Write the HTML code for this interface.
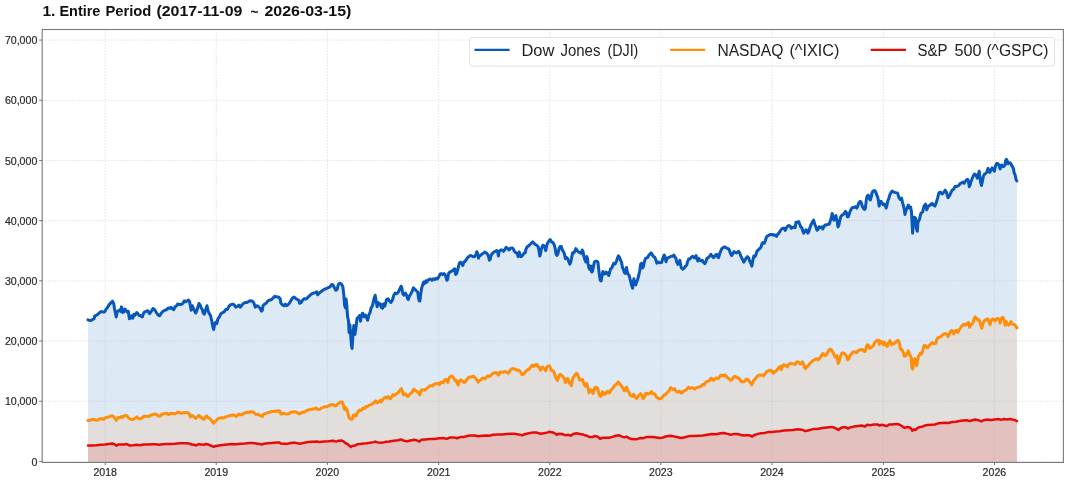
<!DOCTYPE html>
<html><head><meta charset="utf-8"><style>
html,body{margin:0;padding:0;background:#fff;}
svg{display:block;font-family:"Liberation Sans",sans-serif;will-change:transform;}
</style></head><body>
<svg width="1068" height="482" viewBox="0 0 1068 482">
<rect width="1068" height="482" fill="#fff"/>
<g font-size="15.0" font-weight="bold" fill="#111"><text x="42.40" y="15.8" textLength="13.00" lengthAdjust="spacingAndGlyphs">1.</text><text x="59.40" y="15.8" textLength="41.00" lengthAdjust="spacingAndGlyphs">Entire</text><text x="105.40" y="15.8" textLength="46.00" lengthAdjust="spacingAndGlyphs">Period</text><text x="156.40" y="15.8" textLength="86.00" lengthAdjust="spacingAndGlyphs">(2017-11-09</text><text x="250.40" y="17.0" textLength="8.00" lengthAdjust="spacingAndGlyphs">~</text><text x="264.40" y="15.8" textLength="87.00" lengthAdjust="spacingAndGlyphs">2026-03-15)</text></g>
<g stroke="none">
<polygon fill="#0858bc" fill-opacity="0.135" points="88.0,462.0 88.0,319.8 90.1,320.6 92.3,319.8 94.0,318.7 94.9,315.8 96.2,315.3 97.9,314.2 99.6,312.5 101.3,311.6 103.0,311.9 104.7,311.9 105.8,309.7 107.5,307.4 109.2,304.6 110.8,302.9 112.5,301.2 113.7,303.5 114.4,308.0 115.3,312.5 116.2,317.0 117.0,312.5 118.1,310.8 119.3,310.2 120.4,311.3 121.5,306.9 122.6,312.5 123.8,311.9 124.9,309.1 126.0,310.2 127.1,311.9 128.3,311.3 129.4,318.7 130.5,318.1 131.6,315.8 132.8,318.1 133.9,314.2 135.0,315.3 136.7,312.5 137.8,313.6 138.9,315.3 140.6,315.8 142.3,317.0 143.4,313.6 144.6,311.9 146.2,311.3 147.9,310.8 149.6,313.6 151.3,311.3 153.0,308.5 154.7,309.7 156.3,312.5 158.0,314.9 159.7,315.8 161.4,313.0 163.1,311.3 164.8,310.2 166.5,309.7 168.1,308.0 169.8,308.5 171.0,307.4 172.1,308.5 173.8,309.7 174.9,306.9 176.6,305.7 177.7,304.0 179.4,304.6 181.1,304.6 182.8,303.5 184.4,300.7 185.6,301.8 186.7,301.2 188.4,300.1 189.5,301.2 190.6,306.9 191.2,310.2 192.3,305.7 193.4,308.5 194.6,310.8 195.7,313.0 196.8,310.8 197.9,306.9 199.0,303.5 200.2,305.2 201.3,308.0 202.4,309.7 203.1,312.7 204.4,314.2 205.4,310.4 207.0,305.7 208.1,311.1 209.3,313.5 210.6,315.8 211.7,320.5 212.8,326.7 213.7,329.5 214.8,323.6 215.9,322.0 216.8,323.6 217.9,318.9 219.5,316.6 221.0,313.5 222.6,312.7 224.1,311.9 225.7,309.6 227.2,309.6 228.8,306.5 230.4,304.9 232.7,304.1 234.2,304.9 235.8,307.2 237.4,306.5 238.9,305.2 240.5,307.2 242.0,304.9 243.6,303.3 245.1,302.6 246.7,302.6 248.2,301.8 249.8,300.7 252.1,301.0 253.7,302.6 255.3,307.2 256.8,305.7 258.4,306.5 259.9,308.0 261.5,311.1 262.3,310.4 263.0,305.7 264.6,304.1 266.1,303.3 267.7,301.0 269.3,300.2 271.6,299.5 273.2,297.9 274.7,296.3 276.3,296.8 278.6,297.1 280.2,298.7 280.9,303.3 282.5,304.9 284.0,305.7 285.3,304.1 286.4,305.7 287.9,304.9 289.5,303.0 291.1,300.2 292.6,297.9 294.2,297.1 295.7,298.4 297.3,299.5 298.8,300.2 299.6,303.3 301.2,302.6 302.7,299.9 304.3,298.7 305.8,299.0 307.4,297.9 308.9,296.3 310.5,294.8 312.1,293.7 313.6,293.2 315.2,292.5 316.7,291.7 317.6,294.7 319.4,292.9 321.2,291.5 322.9,290.3 324.7,289.1 326.5,288.5 328.2,287.6 330.0,286.8 331.8,284.5 333.0,285.0 334.4,287.6 335.8,290.3 337.1,289.4 338.3,284.5 339.7,283.2 341.5,284.1 342.9,286.8 343.8,294.7 344.6,305.3 345.4,307.9 346.1,299.1 346.8,305.3 347.5,315.9 348.5,321.2 349.1,332.6 349.9,324.7 350.8,337.1 351.5,345.9 352.1,348.5 352.9,335.3 353.8,325.6 354.9,334.4 355.9,328.2 357.0,318.5 358.2,317.6 359.5,315.5 360.5,321.2 361.4,315.9 362.6,313.2 364.1,316.8 365.3,315.0 366.5,317.6 367.6,320.3 368.8,315.0 370.1,312.4 371.1,307.9 372.3,306.2 374.6,296.7 375.2,295.2 376.1,301.0 377.1,306.8 378.1,302.5 379.3,304.7 380.4,303.9 381.4,307.6 382.5,308.3 383.6,303.9 384.8,306.1 385.8,302.5 386.5,299.6 388.0,298.8 389.4,301.0 390.9,302.5 392.3,300.3 393.8,295.2 395.2,293.0 396.7,293.8 398.2,292.3 399.6,289.4 401.1,286.2 401.8,287.9 402.8,293.8 404.0,295.2 405.4,293.0 406.6,295.2 407.6,298.8 408.3,299.6 409.5,295.9 410.5,294.5 412.0,291.6 413.4,287.9 414.9,289.4 416.3,290.8 417.8,292.3 418.5,298.1 419.2,301.0 419.9,301.0 420.7,293.8 421.7,287.9 422.6,285.0 423.6,282.1 424.6,283.6 425.8,280.7 426.9,282.1 427.9,280.4 429.4,279.2 430.7,279.0 432.0,280.3 433.4,278.7 434.7,279.6 436.1,278.3 437.4,279.0 438.8,276.9 440.1,274.2 441.5,273.6 442.8,274.6 444.2,273.6 445.5,275.6 446.9,280.3 447.6,279.6 448.5,273.6 449.6,272.2 450.9,271.5 452.3,270.9 453.6,269.5 454.7,268.8 455.7,274.6 456.6,273.6 457.4,270.9 458.4,266.8 459.3,263.4 460.6,262.1 461.7,263.4 462.8,265.5 463.8,262.1 465.1,261.4 466.4,259.4 467.8,257.4 469.1,256.3 470.5,255.4 471.8,256.0 473.2,256.7 474.5,256.7 475.9,254.7 476.8,251.7 477.6,253.3 478.5,258.1 479.3,256.0 480.6,255.4 482.0,254.0 483.3,253.3 484.7,252.0 486.0,252.7 487.4,254.0 488.4,256.0 489.4,260.1 490.1,259.4 491.1,255.4 492.5,253.3 493.8,252.0 495.2,251.3 496.5,250.6 497.5,251.3 498.4,256.0 499.2,251.3 500.6,250.0 502.2,250.0 503.5,251.3 504.9,249.3 506.2,247.3 507.7,248.6 509.0,250.0 510.4,248.2 511.7,247.9 513.1,248.6 514.4,251.3 515.8,252.7 517.1,253.3 518.2,256.7 519.2,252.0 520.1,255.4 521.2,256.7 522.5,255.4 523.9,253.3 525.2,252.7 525.9,249.3 527.3,246.6 528.6,245.9 530.0,244.6 531.3,243.2 532.7,241.9 534.0,243.2 535.4,244.6 536.7,245.2 538.1,246.6 539.0,250.6 539.8,256.0 540.5,254.0 541.4,248.6 542.8,245.2 544.1,245.9 545.2,248.6 545.7,250.6 546.8,245.2 547.9,242.5 548.8,241.2 550.2,239.6 551.5,241.9 552.9,242.5 554.2,244.6 555.2,248.6 556.0,254.0 556.9,255.4 557.9,254.0 559.0,248.6 560.0,246.6 561.4,246.6 562.3,250.0 563.3,251.3 564.4,254.0 565.4,258.7 566.4,257.4 567.7,258.7 568.7,261.4 569.8,264.1 570.8,262.1 571.8,256.7 572.7,252.7 573.8,252.7 574.9,251.3 575.8,248.6 577.2,250.6 578.5,252.0 579.9,252.7 581.2,253.3 582.2,250.0 583.0,251.3 583.6,255.2 584.7,259.3 585.8,262.0 586.7,256.6 587.4,257.9 588.1,264.0 589.0,268.1 589.8,269.4 590.8,266.0 591.7,272.1 592.5,271.4 593.5,266.0 594.4,262.0 595.5,261.3 596.8,261.3 597.9,262.0 598.5,267.4 599.3,274.1 600.2,280.2 601.2,280.9 602.0,275.5 602.9,271.4 603.9,274.1 604.9,274.1 606.0,272.1 607.0,273.4 607.9,272.8 608.7,275.5 609.7,272.1 610.6,268.7 611.7,268.1 612.8,265.4 613.7,263.3 615.1,264.0 616.4,261.3 617.3,258.6 618.4,255.9 619.5,257.3 620.4,260.0 621.4,262.0 622.5,267.4 623.6,270.1 624.5,272.8 625.4,273.4 626.5,267.4 627.2,271.4 628.1,274.1 629.2,275.5 630.2,279.5 631.0,282.9 631.9,286.3 632.6,288.3 633.3,282.2 633.9,278.8 634.9,284.2 635.7,284.9 636.6,282.2 637.6,279.5 638.7,275.5 639.7,270.8 640.7,264.0 641.6,263.3 642.4,268.1 643.4,266.7 644.3,262.0 645.4,258.6 646.5,257.9 647.8,257.3 648.8,255.2 650.1,253.9 651.1,252.8 652.2,254.6 653.5,256.6 654.8,257.3 655.9,260.0 656.9,263.3 658.2,262.0 659.6,262.7 661.7,262.4 662.8,258.3 664.1,255.0 665.1,257.0 666.0,261.7 667.1,258.3 668.4,257.7 669.8,257.0 671.1,256.3 672.5,256.3 673.8,255.0 674.9,257.0 675.9,258.3 676.8,262.4 677.9,264.4 679.0,262.4 679.9,260.4 680.6,264.4 681.3,267.8 682.6,269.1 684.0,268.4 685.3,266.4 686.7,265.1 687.6,261.7 688.7,259.0 690.0,259.0 691.4,257.0 692.7,256.3 694.1,257.7 695.4,257.0 696.1,255.6 696.8,259.0 697.9,261.0 698.8,258.3 700.1,260.4 701.5,261.0 702.4,260.4 703.5,262.4 704.9,263.7 705.9,261.7 706.9,258.3 708.2,257.7 709.6,256.3 710.9,254.3 712.3,256.3 713.6,257.7 714.6,256.3 715.7,255.0 716.7,254.3 717.7,257.0 718.6,257.7 719.7,253.6 720.8,250.9 721.7,248.9 723.1,247.5 724.4,246.9 725.8,247.5 727.1,248.2 728.5,248.9 729.4,250.2 730.5,253.6 731.8,255.6 732.9,253.6 733.9,251.6 735.2,252.3 736.6,252.9 738.7,251.3 739.8,253.3 741.1,256.7 742.5,259.4 743.8,262.1 744.8,260.7 746.1,258.0 747.5,256.7 748.8,258.0 749.5,260.7 750.6,262.7 751.9,266.1 752.9,260.0 753.8,256.0 754.9,256.7 756.0,254.6 756.9,251.3 758.3,249.9 759.6,248.6 761.0,247.2 761.9,243.8 763.0,242.5 764.3,243.2 765.4,240.5 766.4,237.1 767.7,235.8 769.1,235.1 770.4,234.4 771.8,234.4 773.1,235.1 774.4,234.8 775.8,235.8 776.5,236.4 777.6,234.4 778.9,233.1 780.2,231.0 781.6,229.0 782.9,228.3 784.3,228.3 785.2,230.4 786.2,228.3 787.5,226.3 788.9,225.4 790.2,226.3 791.3,228.3 792.4,227.7 793.7,227.0 795.1,227.7 796.0,222.3 797.4,222.3 798.7,221.6 799.7,224.3 800.8,227.0 801.8,227.7 802.8,231.0 803.7,233.1 804.8,231.7 805.9,229.7 806.8,230.4 807.8,233.1 808.8,231.7 809.9,227.7 810.9,225.0 812.2,222.3 813.6,220.2 815.0,224.9 816.0,226.9 817.0,230.3 818.1,229.6 819.1,226.9 820.4,227.6 821.8,226.9 822.7,229.0 823.8,226.9 825.1,224.9 826.5,224.9 827.8,224.2 829.2,224.2 830.3,220.9 831.2,218.2 832.2,213.4 833.0,218.2 833.9,220.2 834.9,216.8 835.9,215.5 836.6,218.8 837.3,222.2 838.0,226.9 838.9,224.9 839.7,220.9 840.7,216.8 841.6,215.5 842.9,214.8 844.3,213.4 845.4,211.4 846.5,212.8 847.4,216.8 848.3,216.8 849.2,214.1 850.1,211.4 851.4,208.7 852.8,207.4 854.1,207.4 855.5,206.7 856.8,208.1 857.8,206.0 858.9,202.7 860.2,201.3 861.3,202.7 862.2,206.0 863.2,208.1 864.3,209.4 865.3,208.7 866.3,200.0 867.2,195.9 868.3,195.2 869.4,198.6 870.3,200.0 871.3,196.6 872.1,192.5 873.0,191.2 874.4,190.5 875.3,191.2 876.4,193.9 877.5,196.6 878.4,200.0 879.1,206.0 880.2,202.0 881.1,201.3 882.1,203.3 883.2,204.7 884.2,204.0 885.2,204.7 886.1,208.1 886.9,205.4 887.9,200.6 888.8,198.6 889.9,194.6 891.0,192.5 892.2,191.1 893.7,192.1 895.6,192.6 897.5,193.0 899.0,197.7 900.3,199.5 901.6,198.2 902.7,203.3 904.0,207.9 905.0,214.5 905.9,210.7 907.2,207.9 908.3,205.1 909.4,207.9 910.6,207.0 911.5,211.7 912.1,222.9 912.6,233.2 913.4,224.8 914.3,217.3 915.6,218.2 916.5,228.5 917.3,231.3 918.0,222.0 919.5,219.2 920.8,213.6 922.7,211.7 924.0,206.1 925.5,204.2 926.8,209.8 928.3,206.1 930.2,205.1 932.1,203.3 933.4,205.1 934.9,206.1 936.4,202.3 937.7,197.7 939.0,192.6 940.5,192.1 942.0,193.9 943.3,193.0 945.1,190.2 946.4,192.1 947.9,197.7 949.4,195.8 950.7,193.0 952.1,190.2 953.6,189.3 955.0,186.4 956.9,186.4 958.8,185.5 960.1,183.6 962.0,182.7 963.0,182.1 964.1,183.3 965.3,181.5 966.4,179.8 967.6,179.3 968.5,181.5 969.3,186.7 970.1,185.0 971.0,181.5 972.1,178.7 973.3,175.8 974.4,174.1 975.6,174.7 976.5,176.4 977.3,178.1 978.4,174.1 979.2,171.3 979.9,177.0 980.7,182.7 981.5,185.5 982.4,181.5 983.3,176.4 984.5,174.1 985.6,173.5 986.7,172.4 987.5,170.1 988.1,168.4 988.7,170.7 989.8,172.4 991.0,170.1 992.1,167.8 993.3,169.6 994.4,171.3 995.2,167.3 996.1,164.4 997.0,163.3 998.2,163.8 999.3,166.1 1000.2,169.0 1000.9,165.6 1001.8,165.0 1003.0,166.7 1004.1,166.1 1005.0,165.0 1005.5,161.0 1006.4,159.3 1007.3,161.0 1008.1,163.8 1008.9,162.7 1009.8,162.7 1011.0,163.8 1011.9,166.1 1012.7,166.7 1013.5,169.0 1014.2,173.0 1015.0,174.7 1015.5,176.4 1016.1,179.8 1016.9,181.0 1016.9,462.0"/>
<polygon fill="#ff8f0b" fill-opacity="0.112" points="88.0,462.0 88.0,420.6 90.1,420.3 91.7,419.7 93.4,419.2 95.1,419.9 96.8,420.3 98.5,419.5 100.2,418.8 101.9,418.8 103.5,419.2 105.2,418.0 106.9,417.2 108.6,416.9 110.3,416.3 112.0,415.8 113.7,416.6 115.1,418.6 116.2,420.3 117.4,418.6 118.7,417.5 120.4,417.2 121.5,416.3 122.6,417.5 124.3,415.8 125.7,415.2 127.1,416.1 128.3,417.5 129.4,418.6 131.1,419.2 132.8,419.5 134.4,418.6 136.1,417.5 136.9,416.9 137.8,418.0 139.5,418.8 141.2,418.6 142.5,417.5 144.0,416.3 145.7,416.3 147.4,416.6 149.0,416.3 150.7,415.2 152.4,414.7 154.1,414.3 155.8,414.1 157.5,415.2 158.9,416.3 160.3,415.8 162.0,414.3 163.7,413.8 165.3,413.5 166.8,413.2 168.4,414.7 169.8,413.9 171.5,413.2 173.2,413.5 174.9,413.9 176.6,413.0 178.3,412.1 179.9,412.8 181.6,413.2 183.3,412.8 185.0,412.8 186.7,412.4 188.4,413.0 189.5,414.3 190.6,416.9 191.7,415.4 192.9,415.8 194.0,416.9 195.7,418.4 196.8,417.2 197.9,416.3 199.0,415.4 200.2,416.6 201.3,417.5 202.4,418.6 203.9,419.3 205.4,417.0 206.7,415.9 207.9,417.6 209.2,418.1 210.7,419.3 211.8,421.0 212.9,422.6 213.7,423.2 214.6,421.5 215.7,421.0 216.9,419.8 218.0,418.7 219.7,418.1 221.3,417.8 223.0,418.1 224.7,417.4 226.4,416.5 228.1,416.2 229.8,415.6 231.5,415.3 233.1,415.1 234.8,415.3 236.2,416.5 237.6,415.1 239.3,414.0 240.7,414.8 242.1,414.8 243.3,413.7 244.9,412.9 246.6,412.5 248.3,412.5 250.0,412.0 251.7,411.6 253.4,412.0 255.1,413.7 256.2,414.4 257.9,414.2 259.6,415.1 261.2,415.9 262.4,416.5 263.5,414.4 265.2,413.7 266.9,413.1 268.5,412.5 270.2,412.0 271.9,411.4 273.6,411.4 275.3,411.1 277.0,411.4 278.7,410.6 280.0,411.4 280.9,414.0 282.0,413.7 283.7,413.3 285.4,413.7 287.1,414.0 288.8,413.7 290.4,412.5 292.1,412.0 293.8,411.7 295.5,412.0 297.2,412.5 298.9,413.7 300.0,413.7 301.7,412.5 303.4,412.2 305.1,411.7 306.7,410.6 308.4,409.9 310.1,409.5 311.8,409.2 313.5,408.9 315.2,408.6 316.3,408.0 317.4,409.2 318.1,409.6 319.7,409.3 321.2,408.2 322.8,407.5 324.3,406.8 325.9,406.8 327.5,406.5 329.0,405.7 330.6,404.9 332.1,404.4 333.7,404.9 335.2,405.9 336.8,405.4 337.8,403.9 339.4,402.6 340.9,402.0 342.2,402.0 343.0,403.9 343.8,407.0 344.6,409.6 345.6,407.5 346.6,409.1 347.4,411.1 348.2,414.2 349.0,417.4 350.3,418.9 351.8,419.4 352.6,418.4 353.2,415.3 354.2,414.8 355.5,415.8 356.3,415.8 357.0,413.2 358.1,411.6 359.4,410.1 360.7,410.6 361.9,409.6 363.2,408.0 364.6,408.5 366.1,406.5 367.4,406.8 368.7,405.4 370.2,404.9 371.5,404.4 373.1,403.3 374.7,401.8 375.7,400.8 376.7,402.3 377.8,402.8 378.8,401.8 380.2,400.2 381.4,401.8 382.4,400.2 383.5,398.7 384.7,397.4 386.1,397.1 387.1,397.6 388.2,396.6 389.5,398.2 390.5,398.7 391.8,396.6 393.0,394.5 394.6,395.5 396.2,393.9 397.7,392.9 399.3,391.3 400.5,389.4 401.5,388.7 402.4,391.3 403.4,394.9 404.5,394.4 405.5,393.9 406.7,395.5 408.1,396.5 409.1,394.9 410.5,393.4 411.7,392.9 412.8,390.8 413.8,389.2 415.0,390.3 416.4,391.3 417.9,391.8 419.0,393.9 419.8,394.9 420.5,392.4 421.6,389.8 422.9,389.8 424.4,390.3 425.7,389.2 427.1,388.2 428.3,387.2 429.6,386.1 430.9,385.6 432.3,386.1 433.5,384.6 435.1,383.8 436.6,383.5 438.2,383.2 439.5,384.6 440.6,382.2 441.8,382.2 443.1,382.8 443.9,380.9 444.9,379.7 446.0,379.4 447.0,380.9 447.8,382.5 448.9,378.3 450.1,376.8 451.4,376.1 452.7,376.8 453.7,378.0 454.8,379.9 455.8,381.5 456.5,380.4 457.4,383.0 458.2,385.1 458.9,382.5 460.0,380.4 461.0,379.9 462.0,380.9 463.4,382.0 464.6,382.5 465.7,381.5 466.7,379.4 468.0,378.0 469.3,377.0 471.6,377.0 473.2,376.1 474.4,376.8 475.4,378.2 476.8,379.6 478.1,382.2 479.4,380.6 480.6,380.1 482.0,378.5 483.5,378.0 485.1,378.8 486.4,377.2 487.7,375.9 489.2,376.5 490.3,375.9 491.6,374.4 493.1,373.3 494.4,372.8 495.8,372.6 497.0,373.0 498.3,374.9 499.1,374.4 499.9,372.3 501.2,372.0 502.7,372.3 504.3,371.6 505.8,371.8 507.2,372.3 508.2,373.3 509.3,371.8 510.5,369.9 511.7,368.9 513.1,368.5 514.4,368.9 515.7,369.5 516.9,370.2 518.3,370.2 519.6,370.8 520.7,372.3 521.9,374.4 523.0,374.4 524.2,373.7 525.5,371.6 526.9,370.2 528.1,369.5 529.2,369.2 530.2,367.6 531.3,366.1 532.3,365.0 533.5,366.6 534.6,365.6 535.9,364.5 537.0,364.5 537.7,366.1 538.7,367.1 539.6,367.8 540.6,370.2 541.6,367.6 542.7,367.1 543.7,368.2 544.7,369.2 545.8,370.8 546.8,367.1 548.3,365.9 549.6,365.9 550.7,369.0 551.7,370.6 553.1,370.8 554.3,372.6 555.3,376.3 556.4,378.9 557.4,380.4 558.5,377.3 559.5,374.7 560.7,374.5 561.8,375.8 563.1,376.8 564.2,378.3 565.5,382.5 566.5,379.9 567.8,378.3 568.8,382.0 570.1,383.8 571.4,385.6 572.1,381.5 573.0,377.3 574.2,376.3 575.6,374.2 576.6,373.2 577.6,374.2 578.7,377.3 579.7,379.9 581.3,379.9 582.5,379.4 583.6,382.5 584.6,385.1 585.6,386.1 586.7,383.5 587.5,386.1 588.3,389.2 589.1,392.9 590.1,390.8 591.1,389.8 592.2,391.8 593.2,393.4 593.9,389.8 595.0,387.7 596.3,387.2 597.4,388.2 598.4,391.3 599.4,394.9 600.5,396.5 601.5,394.9 602.5,391.8 603.6,392.9 604.6,394.4 605.7,393.9 606.7,391.8 607.7,391.3 608.8,392.9 609.8,392.4 610.9,389.8 611.9,389.2 612.9,388.2 614.0,386.1 615.0,385.1 616.0,384.6 617.1,383.5 618.1,382.2 619.2,383.0 620.2,384.6 621.2,385.6 622.3,387.2 623.3,388.7 624.3,390.8 625.6,389.1 626.6,387.2 627.7,391.1 629.0,392.2 630.1,395.3 631.3,395.8 632.5,396.3 633.6,394.2 634.6,396.3 636.0,397.9 637.0,398.4 638.0,396.3 639.4,394.8 640.6,393.7 641.7,395.3 642.5,397.9 643.5,398.4 644.6,396.8 645.3,393.7 646.7,393.2 647.9,394.2 649.1,393.7 650.5,392.7 651.5,391.6 652.6,393.7 653.9,393.7 655.0,394.2 656.0,396.3 657.0,397.4 658.3,398.4 659.3,398.9 660.6,398.6 661.9,397.9 663.3,395.8 664.3,394.8 665.5,394.8 666.6,393.2 667.8,392.0 668.9,391.1 669.9,388.5 670.9,387.5 672.0,389.1 673.3,389.6 674.4,388.5 675.4,390.1 676.4,391.6 677.8,392.2 679.0,391.1 680.3,391.6 681.3,393.2 682.4,392.7 683.4,391.1 684.7,390.6 686.1,390.1 687.3,388.5 688.4,387.2 689.6,388.2 691.0,388.0 692.3,387.8 693.6,388.2 694.8,389.1 695.8,388.0 696.9,387.5 698.2,387.2 699.6,386.8 700.8,386.5 702.6,384.4 704.2,384.9 705.2,382.9 706.7,381.5 708.3,381.3 709.9,379.8 710.9,378.2 712.2,378.7 713.5,380.3 714.7,379.2 716.1,378.0 717.4,378.4 718.7,378.2 719.7,376.6 721.0,375.1 722.3,375.6 723.7,375.6 724.9,374.9 726.1,376.1 727.5,377.7 729.1,378.7 730.6,380.3 731.6,379.8 733.0,378.0 734.2,376.6 735.5,376.6 736.8,377.7 738.2,377.7 739.4,378.7 740.5,380.8 741.5,381.8 742.7,381.8 744.1,381.8 745.1,380.8 746.2,379.2 747.5,379.2 748.6,380.3 749.6,381.8 750.6,382.9 751.7,384.9 752.7,382.9 753.7,380.3 755.0,379.2 756.2,377.7 757.6,375.9 758.9,375.3 760.2,374.9 761.4,375.3 762.8,375.1 763.8,375.6 764.9,374.1 766.2,372.2 767.4,371.1 768.7,370.7 770.0,370.1 771.4,370.4 772.4,372.5 773.5,373.2 774.5,371.5 775.5,371.5 776.8,370.4 777.8,368.9 779.3,367.0 780.6,366.5 781.4,369.6 782.4,366.0 783.7,364.6 785.1,365.5 786.3,366.0 787.4,367.0 788.6,364.4 790.0,363.4 791.3,363.2 792.6,363.6 793.8,363.9 795.2,364.4 796.5,362.1 797.8,361.8 799.0,362.4 800.3,363.9 801.4,363.4 802.4,361.8 803.5,363.9 804.5,367.5 805.5,368.6 806.9,366.5 808.1,366.0 809.2,364.4 810.2,362.9 811.4,362.1 812.8,360.5 814.1,360.1 815.4,359.2 816.6,358.7 818.0,359.8 819.3,358.7 820.6,357.2 821.6,355.1 822.9,353.5 824.2,354.1 825.2,355.6 826.6,354.6 827.8,352.0 828.9,350.1 830.1,349.1 831.5,349.9 832.5,351.5 833.5,353.5 834.6,356.1 835.6,357.2 836.7,355.6 837.4,359.2 838.2,363.4 839.3,360.8 840.3,356.6 841.5,353.5 842.9,352.8 844.2,353.5 845.5,354.6 846.5,356.1 847.6,359.8 848.6,359.2 849.6,356.1 850.9,354.6 852.2,352.8 853.6,351.8 854.8,351.8 856.6,352.8 857.9,350.9 859.2,349.9 860.4,349.7 861.8,349.4 863.1,349.9 864.2,351.5 865.2,351.5 866.2,347.3 867.3,344.7 868.3,345.2 869.4,348.3 870.4,347.8 871.6,346.8 872.9,346.3 873.9,344.7 875.0,342.1 876.3,341.1 877.7,340.0 878.7,340.6 879.4,344.2 880.1,341.1 881.2,341.6 882.2,342.6 883.3,344.7 884.3,342.1 885.3,343.7 886.4,345.8 887.4,346.3 888.4,343.2 889.8,340.6 890.8,342.1 891.6,344.7 892.6,343.7 893.9,343.7 895.3,342.6 896.5,341.1 897.8,340.4 898.8,341.6 899.7,344.2 900.5,348.9 901.5,349.4 902.6,350.9 903.6,353.5 904.3,356.1 905.4,356.1 906.4,354.6 907.4,353.0 908.2,350.9 909.0,353.0 910.0,355.6 910.9,356.1 911.3,360.3 911.9,367.0 912.6,369.1 913.4,365.5 914.0,359.2 914.7,358.7 915.7,360.8 916.8,365.5 917.5,360.3 918.3,356.6 919.4,355.1 920.4,353.0 921.4,354.1 922.5,352.0 923.3,347.3 924.4,345.2 925.4,345.8 926.4,347.3 927.5,347.8 928.5,346.3 929.7,345.2 931.0,343.7 932.3,342.6 932.6,343.2 934.1,343.4 935.7,343.4 936.7,339.7 938.1,337.7 939.3,337.1 940.9,336.6 942.4,335.1 944.0,334.0 945.5,333.5 946.8,334.2 948.1,336.6 949.1,334.6 950.5,331.4 951.7,330.4 952.8,331.4 953.8,334.0 955.1,330.9 956.4,330.4 957.8,332.5 959.0,329.9 960.6,327.8 961.9,325.7 963.4,324.2 964.7,325.2 966.0,324.2 967.5,323.1 968.5,322.4 969.6,327.3 970.6,325.2 972.0,324.2 973.0,322.6 974.0,319.0 975.1,316.9 976.4,318.0 977.7,320.0 978.7,319.5 979.7,321.6 980.8,325.2 981.8,328.3 982.8,323.7 984.1,321.1 985.4,320.0 987.0,319.0 988.0,319.0 989.1,322.1 990.1,324.7 991.1,320.6 992.4,319.0 993.7,319.5 995.1,321.1 996.3,319.0 997.9,318.3 998.9,319.5 1000.0,323.1 1001.0,319.5 1002.3,317.2 1003.4,318.0 1004.4,320.6 1005.1,325.2 1006.2,321.6 1007.2,323.7 1008.6,325.2 1009.8,324.2 1011.0,321.6 1011.9,323.7 1012.9,324.2 1014.0,324.2 1015.0,325.2 1015.8,326.3 1016.9,327.8 1016.9,462.0"/>
<polygon fill="#e60b09" fill-opacity="0.133" points="88.0,462.0 88.0,445.5 91.7,445.4 96.2,445.2 100.7,444.8 105.2,444.4 108.6,443.9 112.5,443.5 114.8,444.4 116.2,445.7 118.1,444.6 121.0,444.4 123.8,444.6 126.0,444.0 128.3,444.8 129.9,445.5 133.3,445.2 136.7,444.8 140.1,445.2 143.4,444.6 147.9,444.6 152.4,444.3 155.8,444.2 159.2,444.8 162.5,444.3 165.9,443.9 170.4,443.9 174.9,443.7 179.4,443.3 183.9,443.3 187.2,443.3 190.1,443.8 191.7,444.6 194.0,444.8 195.7,445.4 197.4,444.8 199.0,444.0 201.3,444.6 203.4,444.8 206.2,444.0 209.0,444.8 211.8,446.0 213.5,446.9 215.7,446.0 219.1,445.4 222.5,444.9 227.0,444.4 231.5,444.0 236.0,444.3 240.4,443.7 244.9,443.5 249.4,443.1 252.8,443.0 256.2,443.5 259.6,444.0 261.8,444.6 264.0,443.7 267.4,443.3 271.9,442.9 276.4,442.6 279.2,442.4 280.9,443.5 284.3,443.8 287.6,443.7 291.0,443.0 294.4,442.6 297.8,443.3 300.0,443.7 303.4,442.9 307.9,442.1 312.4,441.8 316.9,441.6 319.5,441.9 324.0,441.5 328.5,441.3 333.0,440.7 336.3,441.6 338.6,440.7 342.0,440.4 343.7,441.6 345.3,443.0 347.6,444.1 349.3,445.8 351.0,446.9 352.6,445.8 354.9,445.8 357.1,444.3 359.9,443.9 363.3,443.5 366.7,443.2 370.1,442.8 373.4,442.1 375.1,441.6 377.9,442.4 381.3,442.8 384.7,442.1 389.2,441.6 393.7,440.7 398.1,440.2 401.0,439.4 403.8,440.7 407.1,441.3 410.5,440.5 413.9,439.8 417.2,440.5 419.3,441.6 421.2,439.8 425.1,439.4 429.6,439.0 434.5,438.9 439.0,438.2 443.5,438.0 446.9,438.9 450.2,437.4 453.6,437.4 457.0,438.2 460.3,437.1 463.7,437.1 467.1,436.0 470.4,435.5 474.9,435.5 478.3,436.3 481.7,435.7 486.2,435.5 489.6,435.7 492.9,434.8 497.4,434.6 501.9,434.4 506.4,434.0 510.9,433.7 514.3,433.7 518.8,434.4 522.1,435.2 525.5,434.0 528.9,433.3 532.2,432.6 536.7,432.6 540.7,433.7 543.5,433.3 546.9,432.6 549.5,431.8 552.9,432.4 555.1,433.5 556.8,434.8 559.0,433.7 561.9,434.0 565.2,435.2 568.6,434.8 570.8,435.7 573.1,434.0 576.5,433.3 579.8,434.0 583.2,434.6 586.6,435.7 589.9,437.1 592.8,436.9 595.0,436.0 597.8,436.6 600.1,438.9 602.3,437.8 605.7,437.8 609.0,437.8 612.4,436.9 615.8,435.7 618.6,435.2 621.4,436.3 624.2,437.4 626.5,436.6 628.7,438.0 631.5,439.1 634.9,439.3 637.7,438.9 640.5,438.0 643.3,438.2 646.1,437.1 649.5,436.9 652.9,436.9 656.2,437.4 659.6,438.0 662.4,437.8 663.4,437.2 666.7,436.3 670.7,435.8 674.6,436.6 678.0,437.2 681.3,438.0 684.7,437.2 689.2,436.1 693.7,436.1 698.2,435.8 702.7,435.4 707.2,434.7 711.7,434.1 716.2,434.3 720.7,433.2 724.0,433.0 727.4,433.9 730.8,434.7 734.2,433.9 737.5,433.9 740.9,435.0 744.3,435.4 747.6,435.0 749.9,435.4 752.1,436.6 754.4,435.0 757.8,433.9 761.1,433.2 764.5,433.0 767.9,432.1 772.4,432.1 775.7,431.6 779.5,431.3 784.0,430.6 788.5,430.2 793.0,430.0 797.5,429.3 802.0,429.7 805.3,431.1 808.7,430.2 813.2,429.1 817.7,428.9 822.2,428.0 826.7,427.4 831.2,426.9 834.6,427.8 836.8,428.9 838.5,430.0 840.7,428.0 843.5,427.1 846.3,427.4 848.0,428.5 850.3,427.4 853.7,426.6 858.1,426.0 861.5,425.5 864.9,426.6 867.1,424.8 870.5,425.2 873.9,424.4 877.2,424.4 879.5,425.5 881.7,424.8 884.6,425.5 886.8,426.0 889.6,424.4 892.4,424.4 893.7,424.2 897.3,423.9 899.7,424.7 902.2,426.3 904.6,427.9 907.0,426.9 909.5,427.2 911.3,428.7 912.2,430.8 913.7,429.3 915.6,430.0 917.4,428.1 919.8,426.9 922.3,426.7 924.7,425.5 927.7,425.1 931.4,424.7 935.0,424.5 938.1,423.3 941.7,423.0 945.4,422.7 948.4,423.0 952.1,422.0 955.7,421.8 959.4,421.1 963.0,420.6 966.7,420.2 969.7,421.1 972.2,420.2 975.2,419.6 978.3,420.2 981.3,421.4 983.7,420.2 987.4,419.6 991.0,419.9 994.7,419.4 998.3,419.0 1000.8,419.9 1003.8,419.0 1006.9,419.4 1010.5,419.0 1012.9,419.6 1015.4,420.2 1016.9,421.1 1016.9,462.0"/>
</g>
<g stroke="#b0b0b0" stroke-width="0.9" stroke-dasharray="1.9,1.097" stroke-dashoffset="0.17" fill="none" opacity="0.33">
<line x1="42.17" y1="461.40" x2="1063.4" y2="461.40"/><line x1="42.17" y1="401.21" x2="1063.4" y2="401.21"/><line x1="42.17" y1="341.02" x2="1063.4" y2="341.02"/><line x1="42.17" y1="280.83" x2="1063.4" y2="280.83"/><line x1="42.17" y1="220.65" x2="1063.4" y2="220.65"/><line x1="42.17" y1="160.46" x2="1063.4" y2="160.46"/><line x1="42.17" y1="100.27" x2="1063.4" y2="100.27"/><line x1="42.17" y1="40.08" x2="1063.4" y2="40.08"/><line x1="105.20" y1="462.45" x2="105.20" y2="29.5"/><line x1="216.27" y1="462.45" x2="216.27" y2="29.5"/><line x1="327.35" y1="462.45" x2="327.35" y2="29.5"/><line x1="438.73" y1="462.45" x2="438.73" y2="29.5"/><line x1="549.80" y1="462.45" x2="549.80" y2="29.5"/><line x1="660.87" y1="462.45" x2="660.87" y2="29.5"/><line x1="771.95" y1="462.45" x2="771.95" y2="29.5"/><line x1="883.33" y1="462.45" x2="883.33" y2="29.5"/><line x1="994.40" y1="462.45" x2="994.40" y2="29.5"/>
</g>
<g fill="none" stroke-width="3.0" stroke-linejoin="round" stroke-linecap="round">
<polyline stroke="#0858bc" points="88.0,319.8 90.1,320.6 92.3,319.8 94.0,318.7 94.9,315.8 96.2,315.3 97.9,314.2 99.6,312.5 101.3,311.6 103.0,311.9 104.7,311.9 105.8,309.7 107.5,307.4 109.2,304.6 110.8,302.9 112.5,301.2 113.7,303.5 114.4,308.0 115.3,312.5 116.2,317.0 117.0,312.5 118.1,310.8 119.3,310.2 120.4,311.3 121.5,306.9 122.6,312.5 123.8,311.9 124.9,309.1 126.0,310.2 127.1,311.9 128.3,311.3 129.4,318.7 130.5,318.1 131.6,315.8 132.8,318.1 133.9,314.2 135.0,315.3 136.7,312.5 137.8,313.6 138.9,315.3 140.6,315.8 142.3,317.0 143.4,313.6 144.6,311.9 146.2,311.3 147.9,310.8 149.6,313.6 151.3,311.3 153.0,308.5 154.7,309.7 156.3,312.5 158.0,314.9 159.7,315.8 161.4,313.0 163.1,311.3 164.8,310.2 166.5,309.7 168.1,308.0 169.8,308.5 171.0,307.4 172.1,308.5 173.8,309.7 174.9,306.9 176.6,305.7 177.7,304.0 179.4,304.6 181.1,304.6 182.8,303.5 184.4,300.7 185.6,301.8 186.7,301.2 188.4,300.1 189.5,301.2 190.6,306.9 191.2,310.2 192.3,305.7 193.4,308.5 194.6,310.8 195.7,313.0 196.8,310.8 197.9,306.9 199.0,303.5 200.2,305.2 201.3,308.0 202.4,309.7 203.1,312.7 204.4,314.2 205.4,310.4 207.0,305.7 208.1,311.1 209.3,313.5 210.6,315.8 211.7,320.5 212.8,326.7 213.7,329.5 214.8,323.6 215.9,322.0 216.8,323.6 217.9,318.9 219.5,316.6 221.0,313.5 222.6,312.7 224.1,311.9 225.7,309.6 227.2,309.6 228.8,306.5 230.4,304.9 232.7,304.1 234.2,304.9 235.8,307.2 237.4,306.5 238.9,305.2 240.5,307.2 242.0,304.9 243.6,303.3 245.1,302.6 246.7,302.6 248.2,301.8 249.8,300.7 252.1,301.0 253.7,302.6 255.3,307.2 256.8,305.7 258.4,306.5 259.9,308.0 261.5,311.1 262.3,310.4 263.0,305.7 264.6,304.1 266.1,303.3 267.7,301.0 269.3,300.2 271.6,299.5 273.2,297.9 274.7,296.3 276.3,296.8 278.6,297.1 280.2,298.7 280.9,303.3 282.5,304.9 284.0,305.7 285.3,304.1 286.4,305.7 287.9,304.9 289.5,303.0 291.1,300.2 292.6,297.9 294.2,297.1 295.7,298.4 297.3,299.5 298.8,300.2 299.6,303.3 301.2,302.6 302.7,299.9 304.3,298.7 305.8,299.0 307.4,297.9 308.9,296.3 310.5,294.8 312.1,293.7 313.6,293.2 315.2,292.5 316.7,291.7 317.6,294.7 319.4,292.9 321.2,291.5 322.9,290.3 324.7,289.1 326.5,288.5 328.2,287.6 330.0,286.8 331.8,284.5 333.0,285.0 334.4,287.6 335.8,290.3 337.1,289.4 338.3,284.5 339.7,283.2 341.5,284.1 342.9,286.8 343.8,294.7 344.6,305.3 345.4,307.9 346.1,299.1 346.8,305.3 347.5,315.9 348.5,321.2 349.1,332.6 349.9,324.7 350.8,337.1 351.5,345.9 352.1,348.5 352.9,335.3 353.8,325.6 354.9,334.4 355.9,328.2 357.0,318.5 358.2,317.6 359.5,315.5 360.5,321.2 361.4,315.9 362.6,313.2 364.1,316.8 365.3,315.0 366.5,317.6 367.6,320.3 368.8,315.0 370.1,312.4 371.1,307.9 372.3,306.2 374.6,296.7 375.2,295.2 376.1,301.0 377.1,306.8 378.1,302.5 379.3,304.7 380.4,303.9 381.4,307.6 382.5,308.3 383.6,303.9 384.8,306.1 385.8,302.5 386.5,299.6 388.0,298.8 389.4,301.0 390.9,302.5 392.3,300.3 393.8,295.2 395.2,293.0 396.7,293.8 398.2,292.3 399.6,289.4 401.1,286.2 401.8,287.9 402.8,293.8 404.0,295.2 405.4,293.0 406.6,295.2 407.6,298.8 408.3,299.6 409.5,295.9 410.5,294.5 412.0,291.6 413.4,287.9 414.9,289.4 416.3,290.8 417.8,292.3 418.5,298.1 419.2,301.0 419.9,301.0 420.7,293.8 421.7,287.9 422.6,285.0 423.6,282.1 424.6,283.6 425.8,280.7 426.9,282.1 427.9,280.4 429.4,279.2 430.7,279.0 432.0,280.3 433.4,278.7 434.7,279.6 436.1,278.3 437.4,279.0 438.8,276.9 440.1,274.2 441.5,273.6 442.8,274.6 444.2,273.6 445.5,275.6 446.9,280.3 447.6,279.6 448.5,273.6 449.6,272.2 450.9,271.5 452.3,270.9 453.6,269.5 454.7,268.8 455.7,274.6 456.6,273.6 457.4,270.9 458.4,266.8 459.3,263.4 460.6,262.1 461.7,263.4 462.8,265.5 463.8,262.1 465.1,261.4 466.4,259.4 467.8,257.4 469.1,256.3 470.5,255.4 471.8,256.0 473.2,256.7 474.5,256.7 475.9,254.7 476.8,251.7 477.6,253.3 478.5,258.1 479.3,256.0 480.6,255.4 482.0,254.0 483.3,253.3 484.7,252.0 486.0,252.7 487.4,254.0 488.4,256.0 489.4,260.1 490.1,259.4 491.1,255.4 492.5,253.3 493.8,252.0 495.2,251.3 496.5,250.6 497.5,251.3 498.4,256.0 499.2,251.3 500.6,250.0 502.2,250.0 503.5,251.3 504.9,249.3 506.2,247.3 507.7,248.6 509.0,250.0 510.4,248.2 511.7,247.9 513.1,248.6 514.4,251.3 515.8,252.7 517.1,253.3 518.2,256.7 519.2,252.0 520.1,255.4 521.2,256.7 522.5,255.4 523.9,253.3 525.2,252.7 525.9,249.3 527.3,246.6 528.6,245.9 530.0,244.6 531.3,243.2 532.7,241.9 534.0,243.2 535.4,244.6 536.7,245.2 538.1,246.6 539.0,250.6 539.8,256.0 540.5,254.0 541.4,248.6 542.8,245.2 544.1,245.9 545.2,248.6 545.7,250.6 546.8,245.2 547.9,242.5 548.8,241.2 550.2,239.6 551.5,241.9 552.9,242.5 554.2,244.6 555.2,248.6 556.0,254.0 556.9,255.4 557.9,254.0 559.0,248.6 560.0,246.6 561.4,246.6 562.3,250.0 563.3,251.3 564.4,254.0 565.4,258.7 566.4,257.4 567.7,258.7 568.7,261.4 569.8,264.1 570.8,262.1 571.8,256.7 572.7,252.7 573.8,252.7 574.9,251.3 575.8,248.6 577.2,250.6 578.5,252.0 579.9,252.7 581.2,253.3 582.2,250.0 583.0,251.3 583.6,255.2 584.7,259.3 585.8,262.0 586.7,256.6 587.4,257.9 588.1,264.0 589.0,268.1 589.8,269.4 590.8,266.0 591.7,272.1 592.5,271.4 593.5,266.0 594.4,262.0 595.5,261.3 596.8,261.3 597.9,262.0 598.5,267.4 599.3,274.1 600.2,280.2 601.2,280.9 602.0,275.5 602.9,271.4 603.9,274.1 604.9,274.1 606.0,272.1 607.0,273.4 607.9,272.8 608.7,275.5 609.7,272.1 610.6,268.7 611.7,268.1 612.8,265.4 613.7,263.3 615.1,264.0 616.4,261.3 617.3,258.6 618.4,255.9 619.5,257.3 620.4,260.0 621.4,262.0 622.5,267.4 623.6,270.1 624.5,272.8 625.4,273.4 626.5,267.4 627.2,271.4 628.1,274.1 629.2,275.5 630.2,279.5 631.0,282.9 631.9,286.3 632.6,288.3 633.3,282.2 633.9,278.8 634.9,284.2 635.7,284.9 636.6,282.2 637.6,279.5 638.7,275.5 639.7,270.8 640.7,264.0 641.6,263.3 642.4,268.1 643.4,266.7 644.3,262.0 645.4,258.6 646.5,257.9 647.8,257.3 648.8,255.2 650.1,253.9 651.1,252.8 652.2,254.6 653.5,256.6 654.8,257.3 655.9,260.0 656.9,263.3 658.2,262.0 659.6,262.7 661.7,262.4 662.8,258.3 664.1,255.0 665.1,257.0 666.0,261.7 667.1,258.3 668.4,257.7 669.8,257.0 671.1,256.3 672.5,256.3 673.8,255.0 674.9,257.0 675.9,258.3 676.8,262.4 677.9,264.4 679.0,262.4 679.9,260.4 680.6,264.4 681.3,267.8 682.6,269.1 684.0,268.4 685.3,266.4 686.7,265.1 687.6,261.7 688.7,259.0 690.0,259.0 691.4,257.0 692.7,256.3 694.1,257.7 695.4,257.0 696.1,255.6 696.8,259.0 697.9,261.0 698.8,258.3 700.1,260.4 701.5,261.0 702.4,260.4 703.5,262.4 704.9,263.7 705.9,261.7 706.9,258.3 708.2,257.7 709.6,256.3 710.9,254.3 712.3,256.3 713.6,257.7 714.6,256.3 715.7,255.0 716.7,254.3 717.7,257.0 718.6,257.7 719.7,253.6 720.8,250.9 721.7,248.9 723.1,247.5 724.4,246.9 725.8,247.5 727.1,248.2 728.5,248.9 729.4,250.2 730.5,253.6 731.8,255.6 732.9,253.6 733.9,251.6 735.2,252.3 736.6,252.9 738.7,251.3 739.8,253.3 741.1,256.7 742.5,259.4 743.8,262.1 744.8,260.7 746.1,258.0 747.5,256.7 748.8,258.0 749.5,260.7 750.6,262.7 751.9,266.1 752.9,260.0 753.8,256.0 754.9,256.7 756.0,254.6 756.9,251.3 758.3,249.9 759.6,248.6 761.0,247.2 761.9,243.8 763.0,242.5 764.3,243.2 765.4,240.5 766.4,237.1 767.7,235.8 769.1,235.1 770.4,234.4 771.8,234.4 773.1,235.1 774.4,234.8 775.8,235.8 776.5,236.4 777.6,234.4 778.9,233.1 780.2,231.0 781.6,229.0 782.9,228.3 784.3,228.3 785.2,230.4 786.2,228.3 787.5,226.3 788.9,225.4 790.2,226.3 791.3,228.3 792.4,227.7 793.7,227.0 795.1,227.7 796.0,222.3 797.4,222.3 798.7,221.6 799.7,224.3 800.8,227.0 801.8,227.7 802.8,231.0 803.7,233.1 804.8,231.7 805.9,229.7 806.8,230.4 807.8,233.1 808.8,231.7 809.9,227.7 810.9,225.0 812.2,222.3 813.6,220.2 815.0,224.9 816.0,226.9 817.0,230.3 818.1,229.6 819.1,226.9 820.4,227.6 821.8,226.9 822.7,229.0 823.8,226.9 825.1,224.9 826.5,224.9 827.8,224.2 829.2,224.2 830.3,220.9 831.2,218.2 832.2,213.4 833.0,218.2 833.9,220.2 834.9,216.8 835.9,215.5 836.6,218.8 837.3,222.2 838.0,226.9 838.9,224.9 839.7,220.9 840.7,216.8 841.6,215.5 842.9,214.8 844.3,213.4 845.4,211.4 846.5,212.8 847.4,216.8 848.3,216.8 849.2,214.1 850.1,211.4 851.4,208.7 852.8,207.4 854.1,207.4 855.5,206.7 856.8,208.1 857.8,206.0 858.9,202.7 860.2,201.3 861.3,202.7 862.2,206.0 863.2,208.1 864.3,209.4 865.3,208.7 866.3,200.0 867.2,195.9 868.3,195.2 869.4,198.6 870.3,200.0 871.3,196.6 872.1,192.5 873.0,191.2 874.4,190.5 875.3,191.2 876.4,193.9 877.5,196.6 878.4,200.0 879.1,206.0 880.2,202.0 881.1,201.3 882.1,203.3 883.2,204.7 884.2,204.0 885.2,204.7 886.1,208.1 886.9,205.4 887.9,200.6 888.8,198.6 889.9,194.6 891.0,192.5 892.2,191.1 893.7,192.1 895.6,192.6 897.5,193.0 899.0,197.7 900.3,199.5 901.6,198.2 902.7,203.3 904.0,207.9 905.0,214.5 905.9,210.7 907.2,207.9 908.3,205.1 909.4,207.9 910.6,207.0 911.5,211.7 912.1,222.9 912.6,233.2 913.4,224.8 914.3,217.3 915.6,218.2 916.5,228.5 917.3,231.3 918.0,222.0 919.5,219.2 920.8,213.6 922.7,211.7 924.0,206.1 925.5,204.2 926.8,209.8 928.3,206.1 930.2,205.1 932.1,203.3 933.4,205.1 934.9,206.1 936.4,202.3 937.7,197.7 939.0,192.6 940.5,192.1 942.0,193.9 943.3,193.0 945.1,190.2 946.4,192.1 947.9,197.7 949.4,195.8 950.7,193.0 952.1,190.2 953.6,189.3 955.0,186.4 956.9,186.4 958.8,185.5 960.1,183.6 962.0,182.7 963.0,182.1 964.1,183.3 965.3,181.5 966.4,179.8 967.6,179.3 968.5,181.5 969.3,186.7 970.1,185.0 971.0,181.5 972.1,178.7 973.3,175.8 974.4,174.1 975.6,174.7 976.5,176.4 977.3,178.1 978.4,174.1 979.2,171.3 979.9,177.0 980.7,182.7 981.5,185.5 982.4,181.5 983.3,176.4 984.5,174.1 985.6,173.5 986.7,172.4 987.5,170.1 988.1,168.4 988.7,170.7 989.8,172.4 991.0,170.1 992.1,167.8 993.3,169.6 994.4,171.3 995.2,167.3 996.1,164.4 997.0,163.3 998.2,163.8 999.3,166.1 1000.2,169.0 1000.9,165.6 1001.8,165.0 1003.0,166.7 1004.1,166.1 1005.0,165.0 1005.5,161.0 1006.4,159.3 1007.3,161.0 1008.1,163.8 1008.9,162.7 1009.8,162.7 1011.0,163.8 1011.9,166.1 1012.7,166.7 1013.5,169.0 1014.2,173.0 1015.0,174.7 1015.5,176.4 1016.1,179.8 1016.9,181.0"/>
<polyline stroke="#ff8f0b" points="88.0,420.6 90.1,420.3 91.7,419.7 93.4,419.2 95.1,419.9 96.8,420.3 98.5,419.5 100.2,418.8 101.9,418.8 103.5,419.2 105.2,418.0 106.9,417.2 108.6,416.9 110.3,416.3 112.0,415.8 113.7,416.6 115.1,418.6 116.2,420.3 117.4,418.6 118.7,417.5 120.4,417.2 121.5,416.3 122.6,417.5 124.3,415.8 125.7,415.2 127.1,416.1 128.3,417.5 129.4,418.6 131.1,419.2 132.8,419.5 134.4,418.6 136.1,417.5 136.9,416.9 137.8,418.0 139.5,418.8 141.2,418.6 142.5,417.5 144.0,416.3 145.7,416.3 147.4,416.6 149.0,416.3 150.7,415.2 152.4,414.7 154.1,414.3 155.8,414.1 157.5,415.2 158.9,416.3 160.3,415.8 162.0,414.3 163.7,413.8 165.3,413.5 166.8,413.2 168.4,414.7 169.8,413.9 171.5,413.2 173.2,413.5 174.9,413.9 176.6,413.0 178.3,412.1 179.9,412.8 181.6,413.2 183.3,412.8 185.0,412.8 186.7,412.4 188.4,413.0 189.5,414.3 190.6,416.9 191.7,415.4 192.9,415.8 194.0,416.9 195.7,418.4 196.8,417.2 197.9,416.3 199.0,415.4 200.2,416.6 201.3,417.5 202.4,418.6 203.9,419.3 205.4,417.0 206.7,415.9 207.9,417.6 209.2,418.1 210.7,419.3 211.8,421.0 212.9,422.6 213.7,423.2 214.6,421.5 215.7,421.0 216.9,419.8 218.0,418.7 219.7,418.1 221.3,417.8 223.0,418.1 224.7,417.4 226.4,416.5 228.1,416.2 229.8,415.6 231.5,415.3 233.1,415.1 234.8,415.3 236.2,416.5 237.6,415.1 239.3,414.0 240.7,414.8 242.1,414.8 243.3,413.7 244.9,412.9 246.6,412.5 248.3,412.5 250.0,412.0 251.7,411.6 253.4,412.0 255.1,413.7 256.2,414.4 257.9,414.2 259.6,415.1 261.2,415.9 262.4,416.5 263.5,414.4 265.2,413.7 266.9,413.1 268.5,412.5 270.2,412.0 271.9,411.4 273.6,411.4 275.3,411.1 277.0,411.4 278.7,410.6 280.0,411.4 280.9,414.0 282.0,413.7 283.7,413.3 285.4,413.7 287.1,414.0 288.8,413.7 290.4,412.5 292.1,412.0 293.8,411.7 295.5,412.0 297.2,412.5 298.9,413.7 300.0,413.7 301.7,412.5 303.4,412.2 305.1,411.7 306.7,410.6 308.4,409.9 310.1,409.5 311.8,409.2 313.5,408.9 315.2,408.6 316.3,408.0 317.4,409.2 318.1,409.6 319.7,409.3 321.2,408.2 322.8,407.5 324.3,406.8 325.9,406.8 327.5,406.5 329.0,405.7 330.6,404.9 332.1,404.4 333.7,404.9 335.2,405.9 336.8,405.4 337.8,403.9 339.4,402.6 340.9,402.0 342.2,402.0 343.0,403.9 343.8,407.0 344.6,409.6 345.6,407.5 346.6,409.1 347.4,411.1 348.2,414.2 349.0,417.4 350.3,418.9 351.8,419.4 352.6,418.4 353.2,415.3 354.2,414.8 355.5,415.8 356.3,415.8 357.0,413.2 358.1,411.6 359.4,410.1 360.7,410.6 361.9,409.6 363.2,408.0 364.6,408.5 366.1,406.5 367.4,406.8 368.7,405.4 370.2,404.9 371.5,404.4 373.1,403.3 374.7,401.8 375.7,400.8 376.7,402.3 377.8,402.8 378.8,401.8 380.2,400.2 381.4,401.8 382.4,400.2 383.5,398.7 384.7,397.4 386.1,397.1 387.1,397.6 388.2,396.6 389.5,398.2 390.5,398.7 391.8,396.6 393.0,394.5 394.6,395.5 396.2,393.9 397.7,392.9 399.3,391.3 400.5,389.4 401.5,388.7 402.4,391.3 403.4,394.9 404.5,394.4 405.5,393.9 406.7,395.5 408.1,396.5 409.1,394.9 410.5,393.4 411.7,392.9 412.8,390.8 413.8,389.2 415.0,390.3 416.4,391.3 417.9,391.8 419.0,393.9 419.8,394.9 420.5,392.4 421.6,389.8 422.9,389.8 424.4,390.3 425.7,389.2 427.1,388.2 428.3,387.2 429.6,386.1 430.9,385.6 432.3,386.1 433.5,384.6 435.1,383.8 436.6,383.5 438.2,383.2 439.5,384.6 440.6,382.2 441.8,382.2 443.1,382.8 443.9,380.9 444.9,379.7 446.0,379.4 447.0,380.9 447.8,382.5 448.9,378.3 450.1,376.8 451.4,376.1 452.7,376.8 453.7,378.0 454.8,379.9 455.8,381.5 456.5,380.4 457.4,383.0 458.2,385.1 458.9,382.5 460.0,380.4 461.0,379.9 462.0,380.9 463.4,382.0 464.6,382.5 465.7,381.5 466.7,379.4 468.0,378.0 469.3,377.0 471.6,377.0 473.2,376.1 474.4,376.8 475.4,378.2 476.8,379.6 478.1,382.2 479.4,380.6 480.6,380.1 482.0,378.5 483.5,378.0 485.1,378.8 486.4,377.2 487.7,375.9 489.2,376.5 490.3,375.9 491.6,374.4 493.1,373.3 494.4,372.8 495.8,372.6 497.0,373.0 498.3,374.9 499.1,374.4 499.9,372.3 501.2,372.0 502.7,372.3 504.3,371.6 505.8,371.8 507.2,372.3 508.2,373.3 509.3,371.8 510.5,369.9 511.7,368.9 513.1,368.5 514.4,368.9 515.7,369.5 516.9,370.2 518.3,370.2 519.6,370.8 520.7,372.3 521.9,374.4 523.0,374.4 524.2,373.7 525.5,371.6 526.9,370.2 528.1,369.5 529.2,369.2 530.2,367.6 531.3,366.1 532.3,365.0 533.5,366.6 534.6,365.6 535.9,364.5 537.0,364.5 537.7,366.1 538.7,367.1 539.6,367.8 540.6,370.2 541.6,367.6 542.7,367.1 543.7,368.2 544.7,369.2 545.8,370.8 546.8,367.1 548.3,365.9 549.6,365.9 550.7,369.0 551.7,370.6 553.1,370.8 554.3,372.6 555.3,376.3 556.4,378.9 557.4,380.4 558.5,377.3 559.5,374.7 560.7,374.5 561.8,375.8 563.1,376.8 564.2,378.3 565.5,382.5 566.5,379.9 567.8,378.3 568.8,382.0 570.1,383.8 571.4,385.6 572.1,381.5 573.0,377.3 574.2,376.3 575.6,374.2 576.6,373.2 577.6,374.2 578.7,377.3 579.7,379.9 581.3,379.9 582.5,379.4 583.6,382.5 584.6,385.1 585.6,386.1 586.7,383.5 587.5,386.1 588.3,389.2 589.1,392.9 590.1,390.8 591.1,389.8 592.2,391.8 593.2,393.4 593.9,389.8 595.0,387.7 596.3,387.2 597.4,388.2 598.4,391.3 599.4,394.9 600.5,396.5 601.5,394.9 602.5,391.8 603.6,392.9 604.6,394.4 605.7,393.9 606.7,391.8 607.7,391.3 608.8,392.9 609.8,392.4 610.9,389.8 611.9,389.2 612.9,388.2 614.0,386.1 615.0,385.1 616.0,384.6 617.1,383.5 618.1,382.2 619.2,383.0 620.2,384.6 621.2,385.6 622.3,387.2 623.3,388.7 624.3,390.8 625.6,389.1 626.6,387.2 627.7,391.1 629.0,392.2 630.1,395.3 631.3,395.8 632.5,396.3 633.6,394.2 634.6,396.3 636.0,397.9 637.0,398.4 638.0,396.3 639.4,394.8 640.6,393.7 641.7,395.3 642.5,397.9 643.5,398.4 644.6,396.8 645.3,393.7 646.7,393.2 647.9,394.2 649.1,393.7 650.5,392.7 651.5,391.6 652.6,393.7 653.9,393.7 655.0,394.2 656.0,396.3 657.0,397.4 658.3,398.4 659.3,398.9 660.6,398.6 661.9,397.9 663.3,395.8 664.3,394.8 665.5,394.8 666.6,393.2 667.8,392.0 668.9,391.1 669.9,388.5 670.9,387.5 672.0,389.1 673.3,389.6 674.4,388.5 675.4,390.1 676.4,391.6 677.8,392.2 679.0,391.1 680.3,391.6 681.3,393.2 682.4,392.7 683.4,391.1 684.7,390.6 686.1,390.1 687.3,388.5 688.4,387.2 689.6,388.2 691.0,388.0 692.3,387.8 693.6,388.2 694.8,389.1 695.8,388.0 696.9,387.5 698.2,387.2 699.6,386.8 700.8,386.5 702.6,384.4 704.2,384.9 705.2,382.9 706.7,381.5 708.3,381.3 709.9,379.8 710.9,378.2 712.2,378.7 713.5,380.3 714.7,379.2 716.1,378.0 717.4,378.4 718.7,378.2 719.7,376.6 721.0,375.1 722.3,375.6 723.7,375.6 724.9,374.9 726.1,376.1 727.5,377.7 729.1,378.7 730.6,380.3 731.6,379.8 733.0,378.0 734.2,376.6 735.5,376.6 736.8,377.7 738.2,377.7 739.4,378.7 740.5,380.8 741.5,381.8 742.7,381.8 744.1,381.8 745.1,380.8 746.2,379.2 747.5,379.2 748.6,380.3 749.6,381.8 750.6,382.9 751.7,384.9 752.7,382.9 753.7,380.3 755.0,379.2 756.2,377.7 757.6,375.9 758.9,375.3 760.2,374.9 761.4,375.3 762.8,375.1 763.8,375.6 764.9,374.1 766.2,372.2 767.4,371.1 768.7,370.7 770.0,370.1 771.4,370.4 772.4,372.5 773.5,373.2 774.5,371.5 775.5,371.5 776.8,370.4 777.8,368.9 779.3,367.0 780.6,366.5 781.4,369.6 782.4,366.0 783.7,364.6 785.1,365.5 786.3,366.0 787.4,367.0 788.6,364.4 790.0,363.4 791.3,363.2 792.6,363.6 793.8,363.9 795.2,364.4 796.5,362.1 797.8,361.8 799.0,362.4 800.3,363.9 801.4,363.4 802.4,361.8 803.5,363.9 804.5,367.5 805.5,368.6 806.9,366.5 808.1,366.0 809.2,364.4 810.2,362.9 811.4,362.1 812.8,360.5 814.1,360.1 815.4,359.2 816.6,358.7 818.0,359.8 819.3,358.7 820.6,357.2 821.6,355.1 822.9,353.5 824.2,354.1 825.2,355.6 826.6,354.6 827.8,352.0 828.9,350.1 830.1,349.1 831.5,349.9 832.5,351.5 833.5,353.5 834.6,356.1 835.6,357.2 836.7,355.6 837.4,359.2 838.2,363.4 839.3,360.8 840.3,356.6 841.5,353.5 842.9,352.8 844.2,353.5 845.5,354.6 846.5,356.1 847.6,359.8 848.6,359.2 849.6,356.1 850.9,354.6 852.2,352.8 853.6,351.8 854.8,351.8 856.6,352.8 857.9,350.9 859.2,349.9 860.4,349.7 861.8,349.4 863.1,349.9 864.2,351.5 865.2,351.5 866.2,347.3 867.3,344.7 868.3,345.2 869.4,348.3 870.4,347.8 871.6,346.8 872.9,346.3 873.9,344.7 875.0,342.1 876.3,341.1 877.7,340.0 878.7,340.6 879.4,344.2 880.1,341.1 881.2,341.6 882.2,342.6 883.3,344.7 884.3,342.1 885.3,343.7 886.4,345.8 887.4,346.3 888.4,343.2 889.8,340.6 890.8,342.1 891.6,344.7 892.6,343.7 893.9,343.7 895.3,342.6 896.5,341.1 897.8,340.4 898.8,341.6 899.7,344.2 900.5,348.9 901.5,349.4 902.6,350.9 903.6,353.5 904.3,356.1 905.4,356.1 906.4,354.6 907.4,353.0 908.2,350.9 909.0,353.0 910.0,355.6 910.9,356.1 911.3,360.3 911.9,367.0 912.6,369.1 913.4,365.5 914.0,359.2 914.7,358.7 915.7,360.8 916.8,365.5 917.5,360.3 918.3,356.6 919.4,355.1 920.4,353.0 921.4,354.1 922.5,352.0 923.3,347.3 924.4,345.2 925.4,345.8 926.4,347.3 927.5,347.8 928.5,346.3 929.7,345.2 931.0,343.7 932.3,342.6 932.6,343.2 934.1,343.4 935.7,343.4 936.7,339.7 938.1,337.7 939.3,337.1 940.9,336.6 942.4,335.1 944.0,334.0 945.5,333.5 946.8,334.2 948.1,336.6 949.1,334.6 950.5,331.4 951.7,330.4 952.8,331.4 953.8,334.0 955.1,330.9 956.4,330.4 957.8,332.5 959.0,329.9 960.6,327.8 961.9,325.7 963.4,324.2 964.7,325.2 966.0,324.2 967.5,323.1 968.5,322.4 969.6,327.3 970.6,325.2 972.0,324.2 973.0,322.6 974.0,319.0 975.1,316.9 976.4,318.0 977.7,320.0 978.7,319.5 979.7,321.6 980.8,325.2 981.8,328.3 982.8,323.7 984.1,321.1 985.4,320.0 987.0,319.0 988.0,319.0 989.1,322.1 990.1,324.7 991.1,320.6 992.4,319.0 993.7,319.5 995.1,321.1 996.3,319.0 997.9,318.3 998.9,319.5 1000.0,323.1 1001.0,319.5 1002.3,317.2 1003.4,318.0 1004.4,320.6 1005.1,325.2 1006.2,321.6 1007.2,323.7 1008.6,325.2 1009.8,324.2 1011.0,321.6 1011.9,323.7 1012.9,324.2 1014.0,324.2 1015.0,325.2 1015.8,326.3 1016.9,327.8"/>
<polyline stroke="#e60b09" stroke-width="2.5" points="88.0,445.5 91.7,445.4 96.2,445.2 100.7,444.8 105.2,444.4 108.6,443.9 112.5,443.5 114.8,444.4 116.2,445.7 118.1,444.6 121.0,444.4 123.8,444.6 126.0,444.0 128.3,444.8 129.9,445.5 133.3,445.2 136.7,444.8 140.1,445.2 143.4,444.6 147.9,444.6 152.4,444.3 155.8,444.2 159.2,444.8 162.5,444.3 165.9,443.9 170.4,443.9 174.9,443.7 179.4,443.3 183.9,443.3 187.2,443.3 190.1,443.8 191.7,444.6 194.0,444.8 195.7,445.4 197.4,444.8 199.0,444.0 201.3,444.6 203.4,444.8 206.2,444.0 209.0,444.8 211.8,446.0 213.5,446.9 215.7,446.0 219.1,445.4 222.5,444.9 227.0,444.4 231.5,444.0 236.0,444.3 240.4,443.7 244.9,443.5 249.4,443.1 252.8,443.0 256.2,443.5 259.6,444.0 261.8,444.6 264.0,443.7 267.4,443.3 271.9,442.9 276.4,442.6 279.2,442.4 280.9,443.5 284.3,443.8 287.6,443.7 291.0,443.0 294.4,442.6 297.8,443.3 300.0,443.7 303.4,442.9 307.9,442.1 312.4,441.8 316.9,441.6 319.5,441.9 324.0,441.5 328.5,441.3 333.0,440.7 336.3,441.6 338.6,440.7 342.0,440.4 343.7,441.6 345.3,443.0 347.6,444.1 349.3,445.8 351.0,446.9 352.6,445.8 354.9,445.8 357.1,444.3 359.9,443.9 363.3,443.5 366.7,443.2 370.1,442.8 373.4,442.1 375.1,441.6 377.9,442.4 381.3,442.8 384.7,442.1 389.2,441.6 393.7,440.7 398.1,440.2 401.0,439.4 403.8,440.7 407.1,441.3 410.5,440.5 413.9,439.8 417.2,440.5 419.3,441.6 421.2,439.8 425.1,439.4 429.6,439.0 434.5,438.9 439.0,438.2 443.5,438.0 446.9,438.9 450.2,437.4 453.6,437.4 457.0,438.2 460.3,437.1 463.7,437.1 467.1,436.0 470.4,435.5 474.9,435.5 478.3,436.3 481.7,435.7 486.2,435.5 489.6,435.7 492.9,434.8 497.4,434.6 501.9,434.4 506.4,434.0 510.9,433.7 514.3,433.7 518.8,434.4 522.1,435.2 525.5,434.0 528.9,433.3 532.2,432.6 536.7,432.6 540.7,433.7 543.5,433.3 546.9,432.6 549.5,431.8 552.9,432.4 555.1,433.5 556.8,434.8 559.0,433.7 561.9,434.0 565.2,435.2 568.6,434.8 570.8,435.7 573.1,434.0 576.5,433.3 579.8,434.0 583.2,434.6 586.6,435.7 589.9,437.1 592.8,436.9 595.0,436.0 597.8,436.6 600.1,438.9 602.3,437.8 605.7,437.8 609.0,437.8 612.4,436.9 615.8,435.7 618.6,435.2 621.4,436.3 624.2,437.4 626.5,436.6 628.7,438.0 631.5,439.1 634.9,439.3 637.7,438.9 640.5,438.0 643.3,438.2 646.1,437.1 649.5,436.9 652.9,436.9 656.2,437.4 659.6,438.0 662.4,437.8 663.4,437.2 666.7,436.3 670.7,435.8 674.6,436.6 678.0,437.2 681.3,438.0 684.7,437.2 689.2,436.1 693.7,436.1 698.2,435.8 702.7,435.4 707.2,434.7 711.7,434.1 716.2,434.3 720.7,433.2 724.0,433.0 727.4,433.9 730.8,434.7 734.2,433.9 737.5,433.9 740.9,435.0 744.3,435.4 747.6,435.0 749.9,435.4 752.1,436.6 754.4,435.0 757.8,433.9 761.1,433.2 764.5,433.0 767.9,432.1 772.4,432.1 775.7,431.6 779.5,431.3 784.0,430.6 788.5,430.2 793.0,430.0 797.5,429.3 802.0,429.7 805.3,431.1 808.7,430.2 813.2,429.1 817.7,428.9 822.2,428.0 826.7,427.4 831.2,426.9 834.6,427.8 836.8,428.9 838.5,430.0 840.7,428.0 843.5,427.1 846.3,427.4 848.0,428.5 850.3,427.4 853.7,426.6 858.1,426.0 861.5,425.5 864.9,426.6 867.1,424.8 870.5,425.2 873.9,424.4 877.2,424.4 879.5,425.5 881.7,424.8 884.6,425.5 886.8,426.0 889.6,424.4 892.4,424.4 893.7,424.2 897.3,423.9 899.7,424.7 902.2,426.3 904.6,427.9 907.0,426.9 909.5,427.2 911.3,428.7 912.2,430.8 913.7,429.3 915.6,430.0 917.4,428.1 919.8,426.9 922.3,426.7 924.7,425.5 927.7,425.1 931.4,424.7 935.0,424.5 938.1,423.3 941.7,423.0 945.4,422.7 948.4,423.0 952.1,422.0 955.7,421.8 959.4,421.1 963.0,420.6 966.7,420.2 969.7,421.1 972.2,420.2 975.2,419.6 978.3,420.2 981.3,421.4 983.7,420.2 987.4,419.6 991.0,419.9 994.7,419.4 998.3,419.0 1000.8,419.9 1003.8,419.0 1006.9,419.4 1010.5,419.0 1012.9,419.6 1015.4,420.2 1016.9,421.1"/>
</g>
<rect x="42.17" y="29.5" width="1021.23" height="432.95" fill="none" stroke="#7a7a7a" stroke-width="1.1"/>
<g stroke="#7a7a7a" stroke-width="1.05"><line x1="39.17" y1="461.40" x2="42.17" y2="461.40"/><line x1="39.17" y1="401.21" x2="42.17" y2="401.21"/><line x1="39.17" y1="341.02" x2="42.17" y2="341.02"/><line x1="39.17" y1="280.83" x2="42.17" y2="280.83"/><line x1="39.17" y1="220.65" x2="42.17" y2="220.65"/><line x1="39.17" y1="160.46" x2="42.17" y2="160.46"/><line x1="39.17" y1="100.27" x2="42.17" y2="100.27"/><line x1="39.17" y1="40.08" x2="42.17" y2="40.08"/><line x1="105.20" y1="462.45" x2="105.20" y2="465.05"/><line x1="216.27" y1="462.45" x2="216.27" y2="465.05"/><line x1="327.35" y1="462.45" x2="327.35" y2="465.05"/><line x1="438.73" y1="462.45" x2="438.73" y2="465.05"/><line x1="549.80" y1="462.45" x2="549.80" y2="465.05"/><line x1="660.87" y1="462.45" x2="660.87" y2="465.05"/><line x1="771.95" y1="462.45" x2="771.95" y2="465.05"/><line x1="883.33" y1="462.45" x2="883.33" y2="465.05"/><line x1="994.40" y1="462.45" x2="994.40" y2="465.05"/></g>
<g font-size="11.1" fill="#2a2a2a" stroke="#2a2a2a" stroke-width="0.2"><text x="37.3" y="465.50" text-anchor="end" textLength="5.89" lengthAdjust="spacingAndGlyphs">0</text><text x="37.3" y="405.31" text-anchor="end" textLength="32.41" lengthAdjust="spacingAndGlyphs">10,000</text><text x="37.3" y="345.12" text-anchor="end" textLength="32.41" lengthAdjust="spacingAndGlyphs">20,000</text><text x="37.3" y="284.93" text-anchor="end" textLength="32.41" lengthAdjust="spacingAndGlyphs">30,000</text><text x="37.3" y="224.75" text-anchor="end" textLength="32.41" lengthAdjust="spacingAndGlyphs">40,000</text><text x="37.3" y="164.56" text-anchor="end" textLength="32.41" lengthAdjust="spacingAndGlyphs">50,000</text><text x="37.3" y="104.37" text-anchor="end" textLength="32.41" lengthAdjust="spacingAndGlyphs">60,000</text><text x="37.3" y="44.18" text-anchor="end" textLength="32.41" lengthAdjust="spacingAndGlyphs">70,000</text><text x="105.20" y="476.2" text-anchor="middle" textLength="23.57" lengthAdjust="spacingAndGlyphs">2018</text><text x="216.27" y="476.2" text-anchor="middle" textLength="23.57" lengthAdjust="spacingAndGlyphs">2019</text><text x="327.35" y="476.2" text-anchor="middle" textLength="23.57" lengthAdjust="spacingAndGlyphs">2020</text><text x="438.73" y="476.2" text-anchor="middle" textLength="23.57" lengthAdjust="spacingAndGlyphs">2021</text><text x="549.80" y="476.2" text-anchor="middle" textLength="23.57" lengthAdjust="spacingAndGlyphs">2022</text><text x="660.87" y="476.2" text-anchor="middle" textLength="23.57" lengthAdjust="spacingAndGlyphs">2023</text><text x="771.95" y="476.2" text-anchor="middle" textLength="23.57" lengthAdjust="spacingAndGlyphs">2024</text><text x="883.33" y="476.2" text-anchor="middle" textLength="23.57" lengthAdjust="spacingAndGlyphs">2025</text><text x="994.40" y="476.2" text-anchor="middle" textLength="23.57" lengthAdjust="spacingAndGlyphs">2026</text></g>
<g>
<rect x="469.6" y="37.5" width="585" height="28.5" rx="2.5" fill="#fff" fill-opacity="0.8" stroke="#e2e2e2" stroke-width="1"/>
<line x1="474.5" y1="49.9" x2="509.6" y2="49.9" stroke="#0858bc" stroke-width="2.3"/>
<line x1="670.1" y1="49.9" x2="705.1" y2="49.9" stroke="#ff8f0b" stroke-width="2.3"/>
<line x1="870.8" y1="49.9" x2="906" y2="49.9" stroke="#e60b09" stroke-width="2.3"/>
<g font-size="15.6" fill="#222"><text x="521.40" y="56" textLength="33.00" lengthAdjust="spacingAndGlyphs">Dow</text><text x="560.40" y="56" textLength="40.00" lengthAdjust="spacingAndGlyphs">Jones</text><text x="607.40" y="56" textLength="31.00" lengthAdjust="spacingAndGlyphs">(DJI)</text><text x="717.40" y="56" textLength="66.00" lengthAdjust="spacingAndGlyphs">NASDAQ</text><text x="789.40" y="56" textLength="50.00" lengthAdjust="spacingAndGlyphs">(^IXIC)</text><text x="917.40" y="56" textLength="30.00" lengthAdjust="spacingAndGlyphs">S&amp;P</text><text x="954.40" y="56" textLength="27.00" lengthAdjust="spacingAndGlyphs">500</text><text x="986.40" y="56" textLength="62.00" lengthAdjust="spacingAndGlyphs">(^GSPC)</text></g>
</g>
</svg>
</body></html>
